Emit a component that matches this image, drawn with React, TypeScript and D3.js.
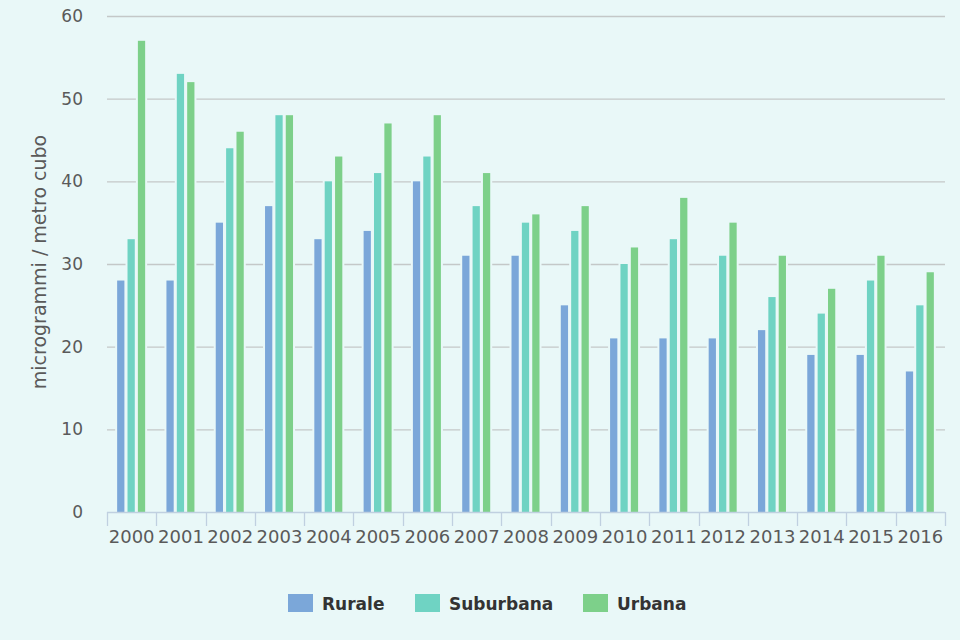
import React, { useEffect, useRef } from 'react';
import * as d3 from 'd3';

const years = ['2000', '2001', '2002', '2003', '2004', '2005', '2006', '2007', '2008', '2009', '2010', '2011', '2012', '2013', '2014', '2015', '2016'];
const rurale = [28, 28, 35, 37, 33, 34, 40, 31, 31, 25, 21, 21, 21, 22, 19, 19, 17];
const suburbana = [33, 53, 44, 48, 40, 41, 43, 37, 35, 34, 30, 33, 31, 26, 24, 28, 25];
const urbana = [57, 52, 46, 48, 43, 47, 48, 41, 36, 37, 32, 38, 35, 31, 27, 31, 29];
const yTicks = [0, 10, 20, 30, 40, 50, 60];

const seriesNames = ['Rurale', 'Suburbana', 'Urbana'];
const seriesColors = ['#7ba7d9', '#6fd3c3', '#7dd08a'];

const BG = '#e9f8f8';

const App = () => {
  const ref = useRef<SVGSVGElement>(null);

  useEffect(() => {
    const svg = d3.select(ref.current);
    svg.selectAll('*').remove();

    const W = 960, H = 640;
    const left = 107, right = 945, top = 16, bottom = 512;
    const series = [rurale, suburbana, urbana];

    svg.append('rect').attr('width', W).attr('height', H).attr('fill', BG);

    const x = d3.scaleBand().domain(years).range([left, right]).padding(0);
    const inner = d3.scaleBand().domain(seriesNames).range([-14.5, 13.5]).paddingInner(0.3);
    const y = d3.scaleLinear().domain([0, 60]).range([bottom, top]);

    // gridlines
    svg.append('g')
      .selectAll('line')
      .data(yTicks.filter((t) => t > 0))
      .enter()
      .append('line')
      .attr('x1', left)
      .attr('x2', right)
      .attr('y1', (d) => y(d) + 0.5)
      .attr('y2', (d) => y(d) + 0.5)
      .attr('stroke', '#c4c8c8')
      .attr('stroke-width', 1.3);

    const flat = series.flatMap((vals, si) => vals.map((v, i) => ({ year: years[i], name: seriesNames[si], v, color: seriesColors[si] })));
    const bx = (d) => (x(d.year) as number) + x.bandwidth() / 2 + (inner(d.name) as number);

    // halos behind bars (break the gridlines)
    svg.append('g')
      .selectAll('rect')
      .data(flat)
      .enter()
      .append('rect')
      .attr('x', (d) => bx(d) - 2)
      .attr('width', inner.bandwidth() + 4)
      .attr('y', (d) => y(d.v) - 2)
      .attr('height', (d) => bottom - y(d.v) + 2)
      .attr('fill', BG);

    svg.append('g')
      .selectAll('rect')
      .data(flat)
      .enter()
      .append('rect')
      .attr('x', (d) => bx(d))
      .attr('width', inner.bandwidth())
      .attr('y', (d) => y(d.v))
      .attr('height', (d) => bottom - y(d.v))
      .attr('fill', (d) => d.color);

    // x axis
    const xa = svg.append('g');
    xa.append('line')
      .attr('x1', left).attr('x2', right)
      .attr('y1', bottom + 0.5).attr('y2', bottom + 0.5)
      .attr('stroke', '#c0d0e0').attr('stroke-width', 1.3);
    const bounds = years.map((yr) => x(yr) as number).concat([right]);
    xa.selectAll('line.tick')
      .data(bounds)
      .enter()
      .append('line')
      .attr('class', 'tick')
      .attr('x1', (d) => Math.round(d) + 0.5)
      .attr('x2', (d) => Math.round(d) + 0.5)
      .attr('y1', bottom)
      .attr('y2', bottom + 14)
      .attr('stroke', '#c0d0e0')
      .attr('stroke-width', 1.3);
    xa.selectAll('text')
      .data(years)
      .enter()
      .append('text')
      .attr('x', (d) => (x(d) as number) + x.bandwidth() / 2)
      .attr('y', 543)
      .attr('text-anchor', 'middle')
      .attr('font-family', 'DejaVu Sans')
      .attr('font-size', 18)
      .attr('fill', '#5a5a5a')
      .text((d) => d);

    // y labels
    svg.append('g')
      .selectAll('text')
      .data(yTicks)
      .enter()
      .append('text')
      .attr('x', 83)
      .attr('y', (d) => y(d))
      .attr('dy', '0.35em')
      .attr('text-anchor', 'end')
      .attr('font-family', 'DejaVu Sans')
      .attr('font-size', 17)
      .attr('fill', '#5a5a5a')
      .text((d) => d);

    svg.append('text')
      .attr('transform', 'translate(46,262) rotate(-90)')
      .attr('text-anchor', 'middle')
      .attr('font-family', 'DejaVu Sans')
      .attr('font-size', 19)
      .attr('fill', '#5a5a5a')
      .text('microgrammi / metro cubo');

    // legend
    const legendX = [288, 415, 583];
    const lg = svg.append('g');
    seriesNames.forEach((name, i) => {
      lg.append('rect')
        .attr('x', legendX[i]).attr('y', 594)
        .attr('width', 25).attr('height', 18)
        .attr('fill', seriesColors[i]);
      lg.append('text')
        .attr('x', legendX[i] + 34).attr('y', 610)
        .attr('font-family', 'DejaVu Sans')
        .attr('font-weight', 'bold')
        .attr('font-size', 17)
        .attr('fill', '#333')
        .text(name);
    });
  }, []);

  return (
    <div style={{ position: 'absolute', left: 0, top: 0 }}>
      <svg ref={ref} width={960} height={640} style={{ display: 'block' }} />
    </div>
  );
};

export default App;
